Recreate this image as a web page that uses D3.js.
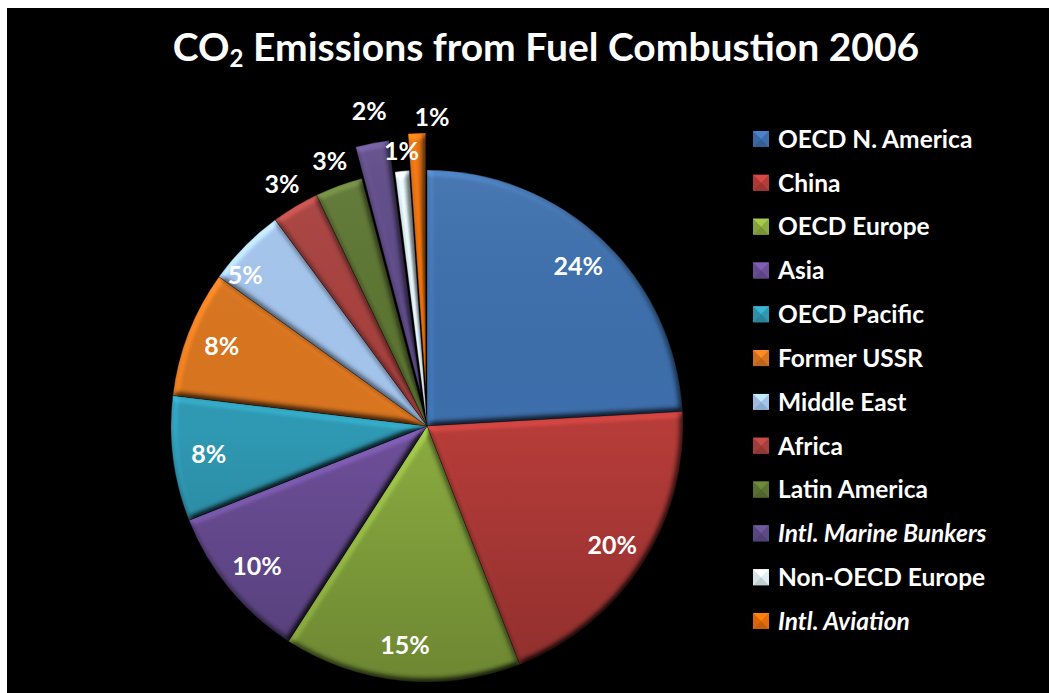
<!DOCTYPE html>
<html>
<head>
<meta charset="utf-8">
<script src="https://cdn.jsdelivr.net/npm/d3@7"></script>
<style>
  html, body { margin: 0; padding: 0; background: #fff; }
  svg { display: block; }
</style>
</head>
<body>
<svg id="chart" width="1049" height="693"></svg>
<script>
// ---- DATA ----
const categories = ["OECD N. America", "China", "OECD Europe", "Asia", "OECD Pacific", "Former USSR",
  "Middle East", "Africa", "Latin America", "Intl. Marine Bunkers", "Non-OECD Europe", "Intl. Aviation"];
const shares = [24.1, 20.0, 15.0, 9.9, 7.9, 8.0, 5.0, 3.0, 3.0, 2.1, 0.9, 1.1];
const colors = ["#3d6eab", "#b53c39", "#8aab40", "#6c4f98", "#2f98b2", "#d8741f",
  "#a3c4ec", "#a7403d", "#5c7431", "#5e4a87", "#dfeff3", "#e46c0a"];
const italicNames = ["Intl. Marine Bunkers", "Intl. Aviation"];
const titleMain = "CO";
const titleSub = "2";
const titleRest = " Emissions from Fuel Combustion 2006";

// ---- LAYOUT ----
const W = 1049, H = 693;
const cx = 427, cy = 426, R = 256;
const explodeBy = {"Intl. Marine Bunkers": 32, "Intl. Aviation": 37};
const labelNudge = {"Intl. Aviation": [16, 10], "Middle East": [-25, 4], "Non-OECD Europe": [2, 6], "Intl. Marine Bunkers": [2, -6]};
const font = "Lato, 'Open Sans', 'DejaVu Sans', sans-serif";

const svg = d3.select("#chart");
svg.append("rect").attr("x", 7).attr("y", 8).attr("width", W - 7).attr("height", H - 8).attr("fill", "#000");

const defs = svg.append("defs");
const f = defs.append("filter").attr("id", "bevel")
  .attr("x", "-10%").attr("y", "-10%").attr("width", "120%").attr("height", "120%")
  .attr("color-interpolation-filters", "sRGB");
f.append("feGaussianBlur").attr("in", "SourceAlpha").attr("stdDeviation", 3).attr("result", "b");
const dl = f.append("feDiffuseLighting").attr("in", "b").attr("surfaceScale", 4)
  .attr("diffuseConstant", 0.98).attr("lighting-color", "#fff").attr("result", "d");
dl.append("feDistantLight").attr("azimuth", 235).attr("elevation", 55);
f.append("feComposite").attr("in", "SourceGraphic").attr("in2", "d").attr("operator", "arithmetic")
  .attr("k1", 1.25).attr("k2", 0).attr("k3", 0).attr("k4", 0);

const shade = defs.append("linearGradient").attr("id", "shade").attr("gradientUnits", "userSpaceOnUse")
  .attr("x1", 0).attr("y1", -R).attr("x2", 0).attr("y2", R);
shade.append("stop").attr("offset", 0).attr("stop-color", "#fff").attr("stop-opacity", 0.06);
shade.append("stop").attr("offset", 0.5).attr("stop-color", "#000").attr("stop-opacity", 0.0);
shade.append("stop").attr("offset", 1).attr("stop-color", "#000").attr("stop-opacity", 0.22);

// Title
const title = svg.append("text").attr("x", 546).attr("y", 61).attr("text-anchor", "middle")
  .attr("fill", "#fff").attr("font-family", font).attr("font-weight", "bold").attr("font-size", 39);
title.append("tspan").text(titleMain);
title.append("tspan").attr("font-size", 24).attr("dy", 6).text(titleSub);
title.append("tspan").attr("dy", -6).text(titleRest);

// Pie
const data = categories.map((c, i) => ({name: c, value: shares[i], color: colors[i]}));
const pie = d3.pie().sort(null).value(d => d.value);
const arcs = pie(data);
const arc = d3.arc().innerRadius(0).outerRadius(R);
const offset = d => {
  const e = explodeBy[d.data.name] || 0;
  const a = (d.startAngle + d.endAngle) / 2;
  return [e * Math.sin(a), -e * Math.cos(a)];
};

const g = svg.append("g").attr("transform", `translate(${cx},${cy})`);
const slices = g.append("g").selectAll("g.slice").data(arcs).join("g").attr("class", "slice")
  .attr("transform", d => `translate(${offset(d)})`);
const inner = slices.append("g").attr("filter", "url(#bevel)");
inner.append("path").attr("d", arc).attr("fill", d => d.data.color);
inner.append("path").attr("d", arc).attr("fill", "url(#shade)");
slices.append("path").attr("d", arc).attr("fill", "none")
  .attr("stroke", "#000").attr("stroke-opacity", 0.35).attr("stroke-width", 0.8);

// Labels (drawn above all slices)
g.append("g").selectAll("text").data(arcs).join("text")
  .attr("transform", d => {
    const pct = d.data.value;
    const lr = pct >= 4 ? R * 0.86 : R + 26;
    const a = (d.startAngle + d.endAngle) / 2;
    const n = labelNudge[d.data.name] || [0, 0];
    const o = offset(d);
    return `translate(${lr * Math.sin(a) + n[0] + o[0]},${-lr * Math.cos(a) + n[1] + o[1]})`;
  })
  .attr("text-anchor", "middle").attr("dy", "0.35em")
  .attr("fill", "#fff").attr("font-family", font).attr("font-weight", "bold").attr("font-size", 25)
  .text(d => Math.round(d.data.value) + "%");

// Legend
const lg = svg.append("g");
const rowY = d3.scaleLinear().domain([0, categories.length - 1]).range([139, 621]);
const items = lg.selectAll("g").data(data).join("g")
  .attr("transform", (d, i) => `translate(753,${rowY(i)})`);
const s = 16, h = s / 2;
items.append("rect").attr("x", 0).attr("y", -h).attr("width", s).attr("height", s).attr("fill", d => d.color);
items.append("path").attr("d", `M0,${-h}L${s},${-h}L${h},0Z`).attr("fill", d => d3.color(d.color).brighter(0.5));
items.append("path").attr("d", `M0,${h}L${s},${h}L${h},0Z`).attr("fill", d => d3.color(d.color).darker(0.4));
items.append("path").attr("d", `M0,${-h}L0,${h}L${h},0Z`).attr("fill", d => d3.color(d.color).darker(0.15));
items.append("text").attr("x", 25).attr("dy", "0.36em")
  .attr("fill", "#fff").attr("font-family", font).attr("font-weight", "bold").attr("font-size", 24.5)
  .attr("font-style", d => italicNames.includes(d.name) ? "italic" : "normal")
  .text(d => d.name);
</script>
</body>
</html>
